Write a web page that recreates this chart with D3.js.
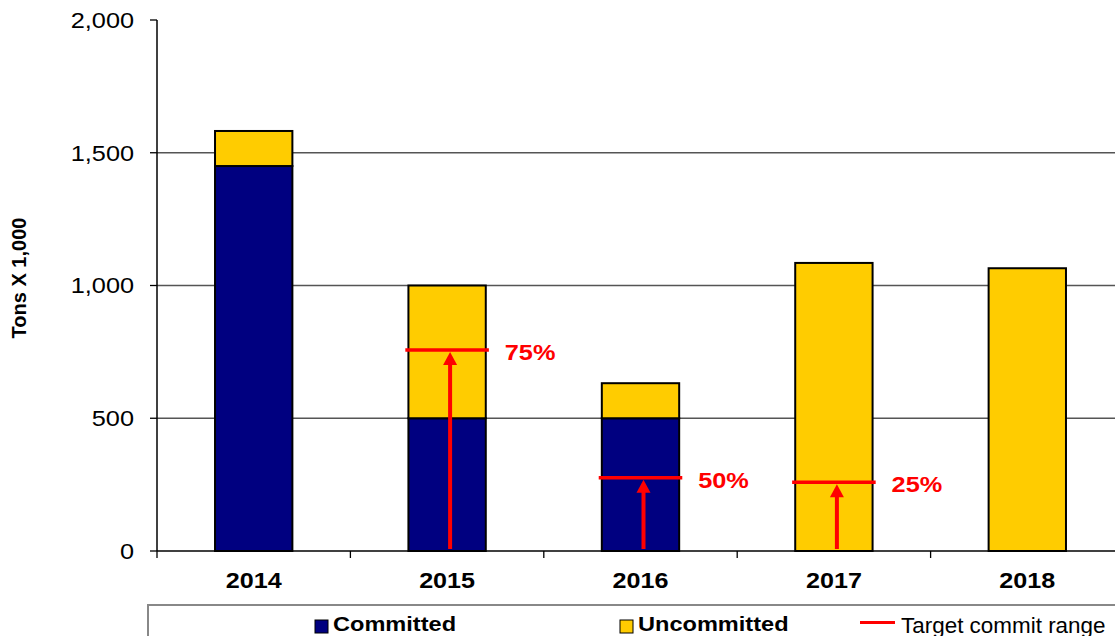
<!DOCTYPE html>
<html>
<head>
<meta charset="utf-8">
<script src="https://cdn.jsdelivr.net/npm/d3@7"></script>
<style>
  html, body { margin: 0; padding: 0; background: #fff; }
  svg { display: block; font-family: Arial, "Liberation Sans", sans-serif; }
</style>
</head>
<body>
<svg id="chart" width="1115" height="636"></svg>
<script>
// ---- data ----
const years = ["2014", "2015", "2016", "2017", "2018"];
const committed = [1450, 500, 500, 0, 0];
const uncommitted = [132, 500, 132, 1085, 1065];
const targetYears = ["2015", "2016", "2017"];
const targetValues = [757, 276, 259];
const targetLabels = ["75%", "50%", "25%"];
const yTicks = [0, 500, 1000, 1500, 2000];
const yTitle = "Tons X 1,000";
const legendLabels = ["Committed", "Uncommitted", "Target commit range"];

// ---- styles ----
const NAVY = "#000080", GOLD = "#FFCC00", RED = "#FF0000";
const svg = d3.select("#chart");

const x = d3.scaleBand().domain(years).range([157, 1124]).paddingInner(0.6).paddingOuter(0.3);
const y = d3.scaleLinear().domain([0, 2000]).range([551, 20]);

// gridlines
svg.append("g").selectAll("line").data(yTicks.filter(d => d > 0 && d < 2000)).join("line")
  .attr("x1", 157).attr("x2", 1124)
  .attr("y1", d => y(d)).attr("y2", d => y(d))
  .attr("stroke", "#555").attr("stroke-width", 1.3);

// stacked bars
const stackData = years.map((yr, i) => ({ year: yr, committed: committed[i], uncommitted: uncommitted[i] }));
const series = d3.stack().keys(["committed", "uncommitted"])(stackData);
const colors = { committed: NAVY, uncommitted: GOLD };
svg.append("g").selectAll("g").data(series).join("g")
  .attr("fill", s => colors[s.key])
  .selectAll("rect").data(s => s.filter(d => d[1] - d[0] > 0)).join("rect")
  .attr("x", d => x(d.data.year))
  .attr("width", x.bandwidth())
  .attr("y", d => y(d[1]))
  .attr("height", d => y(d[0]) - y(d[1]))
  .attr("stroke", "#000").attr("stroke-width", 2);

// y axis
const yAxis = svg.append("g");
yAxis.append("line").attr("x1", 157).attr("x2", 157).attr("y1", y(2000)).attr("y2", y(0))
  .attr("stroke", "#000").attr("stroke-width", 1.5);
yAxis.selectAll("line.tk").data(yTicks).join("line").attr("class", "tk")
  .attr("x1", 150).attr("x2", 157).attr("y1", d => y(d)).attr("y2", d => y(d))
  .attr("stroke", "#000").attr("stroke-width", 1.3);
const fmt = d3.format(",");
yAxis.selectAll("text").data(yTicks).join("text")
  .attr("transform", d => `translate(134,${y(d) + 7.8}) scale(1.15,1)`)
  .attr("text-anchor", "end").attr("font-size", 22).attr("fill", "#000")
  .text(d => fmt(d));

// x axis
const xAxis = svg.append("g");
xAxis.append("line").attr("x1", 157).attr("x2", 1124).attr("y1", y(0)).attr("y2", y(0))
  .attr("stroke", "#000").attr("stroke-width", 1.5);
const step = x.step();
xAxis.selectAll("line.tk").data(d3.range(years.length + 1)).join("line").attr("class", "tk")
  .attr("x1", i => 157 + i * step).attr("x2", i => 157 + i * step)
  .attr("y1", y(0)).attr("y2", y(0) + 7)
  .attr("stroke", "#000").attr("stroke-width", 1.3);
xAxis.selectAll("text").data(years).join("text")
  .attr("transform", d => `translate(${x(d) + x.bandwidth() / 2},${y(0) + 37}) scale(1.17,1)`)
  .attr("text-anchor", "middle").attr("font-size", 21.5).attr("font-weight", "bold")
  .text(d => d);

// y title
svg.append("text")
  .attr("transform", `translate(26,278) rotate(-90)`)
  .attr("text-anchor", "middle").attr("font-size", 20).attr("font-weight", "bold")
  .text(yTitle);

// targets
const tg = svg.append("g");
targetYears.forEach((yr, i) => {
  const cx = x(yr) + x.bandwidth() / 2;
  const ty = y(targetValues[i]);
  const hw = x.bandwidth() * 0.54;
  const ax = cx + 3;
  tg.append("line").attr("x1", ax).attr("x2", ax)
    .attr("y1", y(0) - 2).attr("y2", ty + 12)
    .attr("stroke", RED).attr("stroke-width", 4);
  const tip = ty + 2;
  tg.append("path")
    .attr("d", `M${ax},${tip} L${ax - 7},${tip + 13} L${ax + 7},${tip + 13} Z`)
    .attr("fill", RED);
  tg.append("line").attr("x1", cx - hw).attr("x2", cx + hw)
    .attr("y1", ty).attr("y2", ty)
    .attr("stroke", RED).attr("stroke-width", 3.5);
  tg.append("text")
    .attr("transform", `translate(${x(yr) + x.bandwidth() + 19},${ty + 10}) scale(1.15,1)`)
    .attr("font-size", 22).attr("font-weight", "bold").attr("fill", RED)
    .text(targetLabels[i]);
});

// legend
const lg = svg.append("g");
lg.append("rect").attr("x", 148).attr("y", 605).attr("width", 1100).attr("height", 60)
  .attr("fill", "#fff").attr("stroke", "#888").attr("stroke-width", 2);
const legendX = [315, 620];
[NAVY, GOLD].forEach((c, i) => {
  lg.append("rect").attr("x", legendX[i]).attr("y", 620).attr("width", 13).attr("height", 13)
    .attr("fill", c).attr("stroke", "#000").attr("stroke-width", 1);
  lg.append("text")
    .attr("transform", `translate(${legendX[i] + 18},631) scale(1.15,1)`)
    .attr("font-size", 20.5).attr("font-weight", "bold")
    .text(legendLabels[i]);
});
lg.append("line").attr("x1", 860).attr("x2", 895).attr("y1", 622.5).attr("y2", 622.5)
  .attr("stroke", RED).attr("stroke-width", 3);
lg.append("text")
  .attr("transform", `translate(901,632.5) scale(1.02,1)`)
  .attr("font-size", 22)
  .text(legendLabels[2]);
</script>
</body>
</html>
